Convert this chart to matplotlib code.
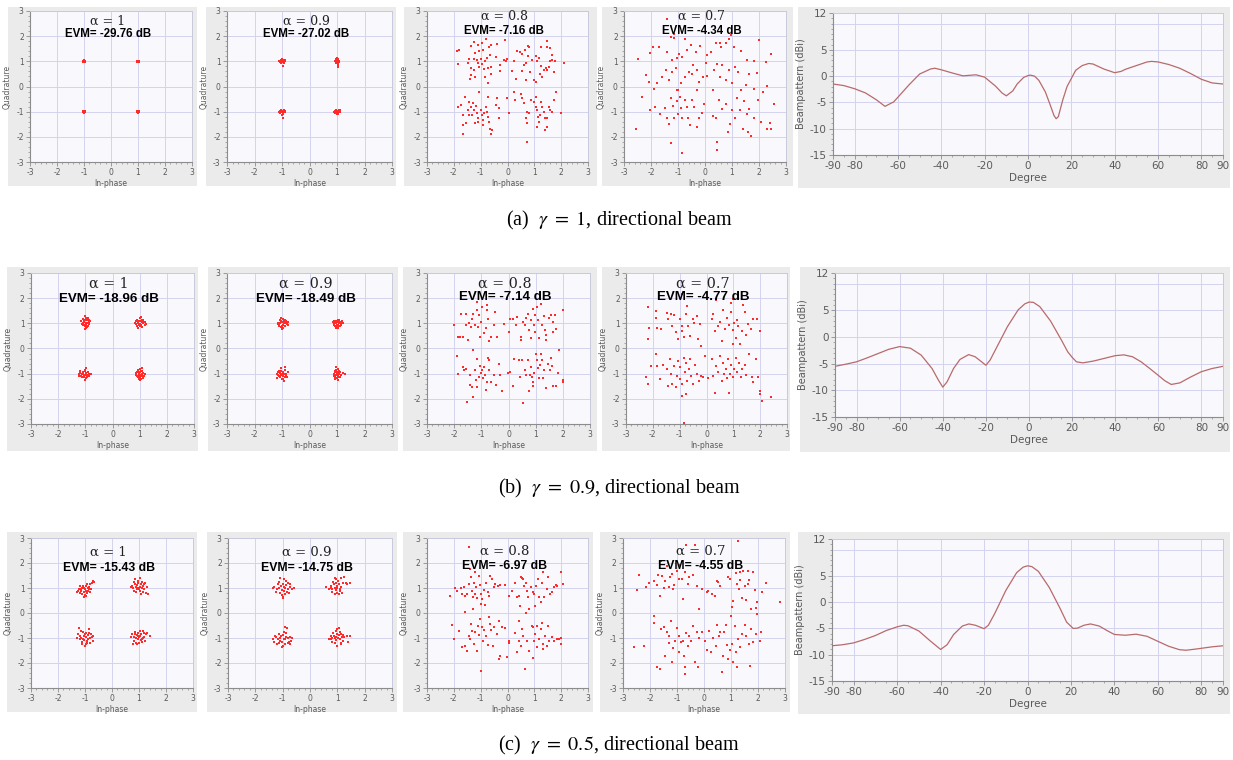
import numpy as np
import matplotlib.pyplot as plt
from matplotlib.patches import Rectangle
from matplotlib.ticker import MultipleLocator

plt.rcParams['mathtext.fontset'] = 'stix'
plt.rcParams['axes.unicode_minus'] = False

# ---------------- data ----------------
alphas = ['1', '0.9', '0.8', '0.7']
evm = [['-29.76', '-27.02', '-7.16', '-4.34'],
       ['-18.96', '-18.49', '-7.14', '-4.77'],
       ['-15.43', '-14.75', '-6.97', '-4.55']]
captions = [r'(a)  $\gamma\ =\ 1$, directional beam',
            r'(b)  $\gamma\ =\ 0.9$, directional beam',
            r'(c)  $\gamma\ =\ 0.5$, directional beam']

# constellation points (In-phase, Quadrature)
a1_pts = [(-1.02, 1.03), (-0.98, 0.99), (-1.00, 1.01), (-0.97, 1.02), (-1.03, 0.98), (-0.99, 0.97), (-1.01, 1.05),
          (-0.96, 0.98), (-1.04, 1.01), (-1.00, 0.96), (0.98, 1.00), (1.02, 1.01), (1.00, 0.98), (1.04, 1.02),
          (0.96, 0.99), (1.01, 0.97), (0.99, 1.03), (1.05, 1.00), (0.97, 1.01), (1.03, 0.98), (-1.01, -0.99),
          (-0.97, -1.02), (-1.03, -0.97), (-0.99, -1.04), (-1.05, -1.00), (-1.00, -1.01), (-0.98, -0.96),
          (-1.02, -1.03), (-0.96, -0.99), (-1.00, -1.00), (1.00, -1.01), (1.03, -0.98), (0.98, -1.03),
          (1.01, -1.00), (0.97, -0.97), (1.04, -1.02), (0.99, -1.04), (1.02, -0.99), (0.96, -1.00), (1.00, -0.96)]

a2_pts = [(-1.00, 1.00), (-0.95, 1.03), (-1.05, 0.97), (-0.92, 0.98), (-1.08, 1.02), (-0.98, 1.06), (-1.02, 0.94),
          (-0.90, 1.01), (-1.12, 1.00), (-0.96, 0.96), (-1.04, 1.05), (-0.97, 0.80), (-1.01, 1.08), (-0.94, 0.92),
          (-1.06, 0.99), (-0.88, 1.04), (1.00, 1.00), (1.04, 1.05), (0.96, 0.97), (1.02, 1.10), (0.98, 0.92),
          (1.06, 0.98), (0.94, 1.03), (1.01, 1.15), (1.03, 0.85), (0.99, 1.07), (1.08, 1.02), (0.97, 0.95),
          (1.05, 0.93), (0.95, 1.08), (1.02, 0.78), (1.00, 1.03), (-1.00, -1.00), (-0.95, -0.97), (-1.05, -1.03),
          (-0.92, -1.02), (-1.08, -0.98), (-0.98, -1.06), (-1.02, -0.94), (-0.90, -1.00), (-1.10, -1.01),
          (-0.96, -1.08), (-1.04, -0.96), (-0.97, -1.25), (-1.01, -1.12), (-0.94, -0.95), (-1.06, -1.05),
          (-0.88, -0.98), (1.00, -1.00), (1.05, -0.97), (0.95, -1.03), (1.08, -1.02), (0.92, -0.98), (1.02, -1.06),
          (0.98, -0.94), (1.10, -1.00), (0.90, -1.01), (1.04, -1.08), (0.96, -0.96), (1.12, -0.95), (1.01, -1.10),
          (0.94, -1.05), (1.06, -0.93), (0.99, -1.02)]

a3_pts = [(-1.9, 1.4), (-1.8, 1.45), (-1.85, 0.9), (-1.45, 1.1), (-1.35, 1.6), (-1.25, 1.75), (-1.1, 1.65),
          (-0.95, 1.72), (-0.8, 1.9), (-0.7, 1.55), (-0.6, 1.65), (-0.4, 1.7), (-0.1, 1.85), (-1.2, 1.35),
          (-1.05, 1.4), (-0.9, 1.45), (-1.25, 1.08), (-1.15, 1.05), (-1.0, 1.08), (-0.75, 1.15), (-0.65, 1.25),
          (-1.35, 0.72), (-1.25, 0.65), (-1.05, 0.78), (-0.88, 0.68), (-0.72, 0.72), (-0.6, 0.78), (-1.35, 0.45),
          (-1.38, 0.28), (-1.2, 0.36), (-0.82, 0.36), (-0.72, 0.15), (-0.6, 0.5), (-0.27, 0.62), (-0.28, 0.85),
          (-0.12, 1.05), (-0.06, 1.0), (-0.02, 1.08), (-0.43, 1.18), (-1.48, 0.92), (-1.1, 0.92), (-0.95, 0.9),
          (-0.85, 1.0), (0.37, 1.42), (0.47, 1.38), (0.65, 1.45), (0.75, 1.62), (0.8, 1.55), (1.23, 1.58),
          (1.48, 1.82), (1.48, 1.58), (1.6, 1.52), (0.18, 0.62), (0.25, 1.0), (0.3, 0.3), (0.55, 0.62),
          (0.6, 0.85), (0.68, 0.92), (0.78, 1.2), (0.55, 1.3), (0.83, 0.58), (0.68, 0.25), (0.93, 1.05),
          (1.05, 1.2), (1.11, 1.0), (1.17, 1.12), (1.23, 0.82), (1.2, 0.5), (1.35, 0.65), (1.42, 0.72),
          (1.48, 0.65), (1.55, 0.78), (1.58, 1.0), (1.67, 1.05), (1.73, 0.58), (1.64, 1.25), (1.76, 1.0),
          (2.12, 0.95), (1.29, 0.38), (0.99, 0.25), (1.05, 0.18), (-1.85, -0.83), (-1.65, -1.13), (-1.6, -0.41),
          (-1.66, -1.53), (-1.66, -1.9), (-1.54, -1.46), (-1.49, -0.93), (-1.42, -0.6), (-1.36, -0.8),
          (-1.33, -1.13), (-1.26, -0.93), (-1.17, -0.78), (-1.14, -1.07), (-1.11, -1.26), (-1.09, -1.4),
          (-1.05, -0.21), (-0.99, -0.93), (-0.96, -1.13), (-0.93, -1.33), (-0.9, -1.53), (-0.87, -1.07),
          (-0.8, -0.8), (-0.77, -1.0), (-0.72, -1.2), (-0.68, -1.4), (-0.64, -1.67), (-0.62, -1.87),
          (-0.56, -1.73), (-0.43, -0.74), (-0.4, -0.47), (-0.33, -0.87), (-0.31, -1.27), (-1.3, -0.67),
          (-1.42, -1.13), (-1.73, -0.74), (-1.21, -1.44), (-0.72, -0.41), (-0.02, -0.47), (0.06, -1.07),
          (0.25, -0.21), (0.28, -0.54), (0.49, -0.28), (0.55, -0.47), (0.62, -0.67), (0.68, -1.27), (0.72, -1.47),
          (0.74, -1.0), (0.8, -1.07), (0.74, -2.2), (0.86, -0.54), (0.99, -0.6), (1.05, -0.41), (1.05, -0.8),
          (1.11, -0.93), (1.09, -1.6), (1.17, -1.4), (1.2, -1.13), (1.29, -0.8), (1.35, -1.0), (1.38, -1.26),
          (1.41, -1.73), (1.48, -1.26), (1.55, -0.8), (1.58, -0.93), (1.67, -1.0), (1.73, -0.54), (1.79, -0.21),
          (2.0, -1.07), (1.48, -1.6), (1.23, -0.6), (1.14, -1.2)]

a4_pts = [(-2.49, 1.08), (-2.05, 1.35), (-1.92, 1.58), (-1.71, 1.58), (-1.42, 2.68), (-1.4, 1.38), (-1.27, 1.98),
          (-1.15, 1.91), (-1.13, 2.08), (-1.24, 1.05), (-1.03, 1.12), (-0.97, 1.31), (-0.84, 1.16), (-0.75, 1.87),
          (-0.66, 1.45), (-0.53, 1.65), (-0.35, 1.38), (-0.19, 1.61), (0.02, 0.94), (0.06, 1.25), (0.21, 1.38),
          (0.4, 1.71), (0.56, 1.74), (0.58, 1.58), (0.77, 1.74), (0.89, 1.87), (0.95, 2.05), (1.08, 1.58),
          (1.32, 1.42), (1.57, 1.05), (1.82, 1.02), (2.0, 1.85), (2.25, 0.98), (2.44, 1.31), (-2.2, 0.45),
          (-2.08, 0.19), (-1.89, -0.08), (-1.77, 0.12), (-1.58, 0.39), (-1.46, 0.65), (-1.34, 0.25), (-1.21, 0.58),
          (-1.09, 0.72), (-1.0, -0.12), (-0.9, 0.12), (-0.75, 0.39), (-0.59, 0.58), (-0.47, 0.49), (-0.43, 0.85),
          (-0.28, 0.65), (-0.22, 0.19), (-0.06, 0.36), (0.09, 0.41), (0.33, 0.65), (0.43, 0.89), (0.56, 0.39),
          (0.64, 0.85), (0.77, 0.25), (0.89, 0.65), (1.01, 0.15), (1.11, 0.78), (1.23, 0.58), (1.32, -0.15),
          (1.51, 0.05), (1.63, 0.49), (1.82, -0.08), (1.92, 0.52), (2.31, 0.01), (2.13, -0.21), (0.31, -0.12),
          (-0.28, -0.12), (-1.05, -0.15), (-2.57, -1.67), (-2.33, -0.41), (-2.04, -0.94), (-1.87, -0.81),
          (-1.65, -1.08), (-1.5, -0.84), (-1.42, -1.27), (-1.34, -1.5), (-1.25, -0.44), (-1.18, -0.78),
          (-1.13, -1.27), (-1.05, -0.57), (-0.99, -1.1), (-0.93, -0.41), (-0.88, -0.84), (-0.84, -1.27),
          (-0.75, -0.52), (-0.68, -0.81), (-0.63, -1.24), (-0.56, -1.54), (-0.47, -0.52), (-0.41, -0.81),
          (-0.31, -1.61), (-0.22, -1.24), (-0.1, -1.05), (-0.04, -0.7), (-1.25, -2.24), (-0.87, -2.63),
          (0.31, -1.18), (0.4, -1.27), (0.43, -2.2), (0.43, -2.51), (0.52, -0.54), (0.64, -0.88), (0.77, -0.68),
          (0.85, -1.81), (0.93, -1.5), (1.01, -0.94), (1.1, -1.27), (1.2, -0.44), (1.3, -0.94), (1.39, -1.67),
          (1.45, -0.57), (1.55, -1.08), (1.6, -1.81), (1.63, -0.88), (1.72, -1.98), (1.82, -1.27), (1.97, -0.54),
          (2.07, -1.41), (2.29, -1.67), (2.41, -1.45), (2.44, -1.67), (2.54, -0.68)]

b1_pts = [(-1.05, 1.05), (-0.95, 1.12), (-1.10, 0.92), (-0.88, 0.98), (-1.00, 1.30), (-0.98, 0.80), (-1.15, 1.08),
          (-0.92, 1.20), (-1.03, 0.88), (-0.85, 1.05), (-1.08, 1.18), (-0.97, 1.00), (-1.12, 0.98), (-0.90, 0.90),
          (-1.01, 1.15), (-0.94, 1.03), (-1.06, 0.95), (-0.82, 1.10), (-1.02, 0.76), (-0.99, 1.22), (-1.09, 1.02),
          (-0.96, 0.93), (-0.87, 1.15), (-1.04, 1.08), (-0.93, 0.85), (0.85, 1.10), (0.95, 1.00), (1.05, 0.95),
          (1.15, 1.05), (0.90, 0.88), (1.00, 1.20), (1.10, 0.85), (1.22, 0.98), (0.98, 1.08), (1.08, 1.12),
          (0.88, 0.98), (1.02, 0.90), (1.12, 1.02), (0.95, 0.82), (1.05, 1.25), (1.18, 0.92), (0.92, 1.15),
          (1.00, 0.97), (1.07, 1.04), (0.83, 1.02), (1.13, 1.15), (0.97, 0.92), (1.03, 1.10), (1.20, 1.06),
          (0.93, 1.05), (-1.10, -1.00), (-1.00, -0.90), (-0.95, -1.05), (-1.20, -0.98), (-1.05, -1.15),
          (-0.90, -0.95), (-1.15, -1.08), (-0.98, -0.78), (-1.02, -1.25), (-1.25, -1.02), (-0.85, -1.02),
          (-1.08, -0.92), (-0.93, -1.12), (-1.12, -1.15), (-1.00, -1.05), (-1.18, -0.90), (-0.96, -0.98),
          (-1.06, -1.06), (-0.88, -1.08), (-1.03, -0.85), (-1.14, -1.03), (-0.99, -1.18), (-1.22, -1.10),
          (-1.07, -0.97), (-0.80, -1.00), (0.95, -0.95), (1.05, -1.05), (0.90, -1.10), (1.10, -0.90), (1.00, -0.80),
          (0.98, -1.20), (1.15, -1.10), (0.88, -0.98), (1.08, -1.00), (1.02, -1.15), (0.93, -0.85), (1.12, -1.18),
          (0.97, -1.05), (1.06, -0.88), (1.20, -1.02), (0.85, -1.05), (1.03, -0.95), (0.95, -1.12), (1.10, -1.08),
          (1.00, -1.25), (0.92, -0.92), (1.14, -0.97), (1.04, -1.22), (0.99, -0.98), (1.08, -0.78)]

b2_pts = [(-1.00, 1.05), (-0.90, 1.12), (-1.10, 0.95), (-0.82, 0.98), (-0.95, 1.18), (-1.05, 0.85), (-1.15, 1.02),
          (-0.88, 0.88), (-0.98, 0.95), (-0.78, 1.05), (-1.08, 1.12), (-0.93, 1.00), (-1.12, 0.88), (-0.85, 1.10),
          (-1.02, 1.20), (-0.96, 0.82), (-1.06, 1.00), (-0.91, 1.06), (-0.99, 0.90), (-0.80, 0.92), (-1.04, 1.08),
          (-0.87, 1.02), (-1.13, 0.97), (-0.94, 1.14), (-1.01, 0.78), (0.95, 1.00), (1.05, 0.95), (0.90, 1.10),
          (1.10, 1.05), (1.00, 0.85), (0.88, 0.92), (1.15, 0.95), (1.02, 1.15), (0.97, 0.80), (1.08, 0.88),
          (0.92, 1.02), (1.20, 1.00), (1.03, 1.05), (0.86, 1.05), (1.12, 0.90), (0.99, 0.95), (1.06, 1.12),
          (0.94, 0.88), (1.17, 1.08), (1.01, 0.92), (0.90, 0.97), (1.09, 1.00), (0.96, 1.08), (1.04, 0.82),
          (1.13, 1.02), (-1.00, -1.00), (-0.90, -0.85), (-1.10, -1.10), (-0.95, -1.20), (-1.15, -0.95),
          (-0.85, -1.05), (-1.05, -0.78), (-0.92, -1.30), (-1.20, -1.02), (-0.98, -0.92), (-1.08, -1.15),
          (-0.88, -1.12), (-1.02, -1.05), (-0.80, -0.95), (-1.12, -0.88), (-0.96, -1.08), (-1.06, -0.98),
          (-0.90, -0.72), (-1.18, -1.18), (-1.00, -1.22), (-0.87, -1.00), (-1.04, -0.90), (-0.94, -1.02),
          (-1.14, -1.06), (-0.83, -1.15), (1.00, -1.00), (0.95, -0.85), (1.05, -1.10), (0.92, -1.15), (1.10, -0.95),
          (0.98, -0.75), (1.02, -1.25), (0.90, -1.00), (1.08, -0.88), (1.30, -1.02), (0.96, -1.05), (1.04, -0.92),
          (0.93, -0.90), (1.12, -1.12), (1.00, -1.18), (0.88, -1.08), (1.06, -1.02), (0.97, -0.95), (1.15, -1.05),
          (1.02, -0.82), (0.94, -1.22), (1.09, -1.15), (1.01, -0.97), (0.91, -0.92), (1.20, -0.98)]

b3_pts = [(-2.0, 0.92), (-1.86, 0.44), (-1.8, 0.46), (-1.76, 1.39), (-1.58, 1.39), (-1.55, 0.95), (-1.49, 0.33),
          (-1.47, 1.02), (-1.37, 0.86), (-1.33, 1.19), (-1.29, 1.39), (-1.22, 0.92), (-1.16, 1.52), (-1.09, 1.32),
          (-1.04, 0.46), (-1.0, 1.06), (-0.97, 1.65), (-0.92, 0.62), (-0.84, 0.83), (-0.8, 1.52), (-0.76, 1.19),
          (-0.72, 0.3), (-0.64, 0.46), (-0.55, 0.92), (-0.48, 1.45), (-0.43, 0.46), (-1.16, 1.85), (-0.8, 1.72),
          (-1.31, -0.07), (-1.68, 0.46), (-1.13, 0.86), (-0.15, 0.99), (0.0, 0.66), (0.04, 1.19), (0.16, 1.19),
          (0.28, 0.92), (0.31, 1.25), (0.47, 0.46), (0.47, 0.33), (0.55, 1.06), (0.62, 0.92), (0.65, 1.23),
          (0.71, 1.39), (0.77, 0.73), (0.81, 0.4), (0.83, 1.15), (0.89, 1.58), (0.93, 0.92), (0.97, 0.66),
          (0.99, 1.32), (1.04, 1.65), (1.08, 1.12), (1.11, 0.4), (1.2, 1.78), (1.24, 0.92), (1.3, 1.28),
          (1.35, 0.73), (1.38, 0.53), (1.48, 1.23), (1.57, 1.32), (1.63, 0.66), (1.65, 1.06), (1.73, 1.32),
          (1.75, 0.79), (2.02, 1.54), (1.85, -0.04), (1.38, 0.33), (-1.9, -0.3), (-1.86, -1.03), (-1.68, -0.73),
          (-1.64, -0.86), (-1.58, -0.82), (-1.52, -2.11), (-1.43, -1.06), (-1.4, -1.45), (-1.33, -1.52),
          (-1.29, -1.91), (-1.25, -0.86), (-1.21, -1.25), (-1.16, -0.4), (-1.15, -1.54), (-1.1, -1.12),
          (-1.06, -0.7), (-1.03, -0.99), (-0.98, -0.86), (-0.94, -1.19), (-0.91, -0.75), (-0.86, -1.06),
          (-0.8, -1.32), (-0.76, -0.36), (-0.72, -0.46), (-0.7, -0.86), (-0.64, -1.32), (-0.55, -1.06),
          (-0.45, -1.45), (-0.35, -0.62), (-0.31, -1.06), (-0.24, -1.68), (-0.84, -1.65), (-0.02, -0.99),
          (0.07, -0.92), (0.16, -1.49), (0.22, -0.4), (0.37, -0.46), (0.43, -1.15), (0.5, -0.46), (0.53, -2.18),
          (0.62, -0.86), (0.65, -1.06), (0.71, -0.46), (0.75, -1.68), (0.8, -1.06), (0.83, -0.75), (0.87, -1.12),
          (0.89, -1.49), (0.92, -1.32), (0.95, -0.99), (1.02, -0.2), (1.04, -0.44), (1.08, -0.79), (1.11, -1.19),
          (1.16, -0.66), (1.2, -0.22), (1.24, -0.46), (1.26, -1.19), (1.32, -0.86), (1.38, -1.58), (1.44, -0.62),
          (1.53, -0.86), (1.6, -0.7), (1.63, -1.49), (1.75, -1.49), (1.81, -0.99), (2.0, -1.32), (2.02, -1.25),
          (1.57, -0.36)]

b4_pts = [(-2.18, 1.66), (-2.18, 0.37), (-2.14, 0.83), (-1.87, 1.49), (-1.87, 1.23), (-1.84, 0.83), (-1.68, 0.77),
          (-1.49, 1.4), (-1.43, 1.16), (-1.34, 1.36), (-1.27, 0.9), (-1.22, 1.32), (-1.15, 0.66), (-1.06, 0.37),
          (-0.97, 1.19), (-0.93, 0.9), (-0.9, 0.7), (-0.85, 0.47), (-0.77, 1.36), (-0.72, 1.69), (-0.68, 0.9),
          (-0.6, 0.5), (-0.52, 1.19), (-0.47, 1.0), (-0.37, 1.29), (-0.31, 0.37), (-0.25, 0.96), (-0.19, 0.08),
          (0.19, 1.19), (0.25, 1.36), (0.31, 0.7), (0.37, 1.93), (0.44, 0.9), (0.52, 1.06), (0.56, 0.3),
          (0.62, 1.53), (0.68, 0.77), (0.77, 1.23), (0.85, 0.92), (0.9, 1.82), (0.93, 1.45), (0.97, 0.74),
          (1.03, 1.03), (1.1, 0.4), (1.15, 1.13), (1.18, 0.9), (1.25, 0.17), (1.31, 0.7), (1.37, 1.72),
          (1.43, 1.45), (1.49, 0.53), (1.56, 0.96), (1.64, 0.77), (1.74, 1.16), (1.87, 1.19), (2.0, 0.7),
          (1.0, 0.17), (-0.93, 2.15), (1.0, 1.95), (-2.24, -1.15), (-2.18, -1.41), (-2.05, -0.71), (-1.87, -0.22),
          (-1.84, -0.69), (-1.72, -1.21), (-1.62, -0.66), (-1.49, -0.82), (-1.43, -1.48), (-1.37, -0.42),
          (-1.31, -1.02), (-1.27, -1.41), (-1.22, -0.71), (-1.15, -1.54), (-1.1, -1.08), (-1.06, -0.49),
          (-1.0, -0.75), (-0.97, -1.21), (-0.91, -1.41), (-0.9, -1.87), (-0.85, -0.36), (-0.81, -0.95),
          (-0.75, -0.58), (-0.72, -1.28), (-0.65, -0.82), (-0.6, -0.4), (-0.56, -1.08), (-0.5, -1.41),
          (-0.44, -0.66), (-0.37, -1.02), (-0.27, -1.28), (-0.19, -1.11), (-0.12, -1.15), (-0.06, -0.29),
          (0.06, -1.19), (0.19, -0.42), (0.25, -1.08), (0.31, -1.77), (0.37, -0.69), (0.44, -0.92), (0.52, -0.29),
          (0.56, -1.28), (0.62, -0.58), (0.65, -1.02), (0.72, -0.82), (0.77, -1.19), (0.81, -0.42), (0.85, -1.77),
          (0.87, -1.02), (0.93, -0.66), (0.97, -1.15), (1.03, -0.82), (1.1, -0.36), (1.15, -0.95), (1.22, -0.58),
          (1.27, -1.15), (1.34, -0.82), (1.43, -0.66), (1.49, -1.06), (1.59, -0.22), (1.68, -1.15), (1.74, -1.32),
          (1.84, -0.4), (1.93, -1.15), (2.0, -1.68), (2.0, -1.81), (2.05, -2.07), (2.39, -1.94), (-0.83, -2.97),
          (-0.77, -1.81)]

c1_pts = [(-1.00, 0.95), (-1.25, 0.90), (-1.20, 1.10), (-0.90, 1.00), (-0.80, 1.15), (-0.70, 1.30), (-1.10, 0.75),
          (-1.05, 0.65), (-0.95, 0.70), (-1.30, 0.85), (-1.15, 0.95), (-0.85, 1.05), (-0.75, 1.20), (-0.95, 1.10),
          (-1.05, 0.85), (-1.18, 0.80), (-0.88, 0.90), (-1.02, 1.02), (-0.92, 0.82), (-1.12, 1.00), (-0.78, 0.98),
          (-1.22, 0.98), (-0.98, 0.88), (-0.82, 0.85), (-1.08, 1.08), (-0.65, 1.25), (-1.00, 0.72), (-0.93, 1.18),
          (-1.14, 0.88), (-0.86, 0.95), (0.75, 1.10), (0.80, 0.90), (0.85, 1.35), (0.90, 1.05), (0.95, 1.20),
          (1.00, 0.95), (1.05, 1.40), (1.10, 1.00), (1.15, 0.85), (1.20, 1.15), (1.25, 0.80), (1.30, 1.05),
          (0.82, 1.25), (0.88, 0.85), (0.92, 1.12), (0.98, 1.30), (1.02, 0.88), (1.08, 1.15), (1.12, 1.25),
          (1.18, 0.95), (0.78, 1.00), (0.86, 1.18), (0.94, 0.95), (1.04, 1.05), (1.14, 1.08), (1.22, 1.20),
          (0.70, 1.05), (0.96, 1.02), (1.06, 0.78), (1.35, 0.75), (-1.25, -0.85), (-1.20, -1.05), (-1.15, -0.70),
          (-1.10, -1.15), (-1.05, -0.90), (-1.00, -1.30), (-0.95, -0.80), (-0.90, -1.05), (-0.85, -0.65),
          (-0.80, -1.20), (-0.75, -0.95), (-0.70, -1.10), (-1.28, -1.00), (-1.18, -0.92), (-1.08, -0.75),
          (-1.02, -1.08), (-0.98, -0.95), (-0.92, -1.18), (-0.88, -0.88), (-0.82, -1.00), (-1.12, -1.22),
          (-1.00, -0.85), (-0.94, -1.12), (-0.86, -0.78), (-1.06, -1.02), (-1.22, -0.60), (-0.78, -0.85),
          (-0.96, -1.25), (-1.14, -0.98), (-0.72, -0.92), (0.70, -0.95), (0.75, -0.85), (0.80, -1.10), (0.85, -0.75),
          (0.90, -1.00), (0.95, -0.80), (1.00, -1.20), (1.05, -0.90), (1.10, -1.05), (1.15, -0.70), (1.20, -0.95),
          (1.25, -0.85), (1.40, -0.90), (0.82, -0.95), (0.88, -1.18), (0.92, -0.88), (0.98, -1.02), (1.02, -0.72),
          (1.08, -0.85), (1.12, -1.15), (1.18, -0.80), (0.78, -1.22), (0.96, -0.92), (1.06, -1.08), (1.14, -0.98),
          (0.86, -0.82), (1.00, -0.95), (1.22, -1.10), (0.93, -1.25), (1.30, -0.78)]

c2_pts = [(-1.30, 1.05), (-1.20, 0.95), (-1.15, 1.25), (-1.10, 0.80), (-1.05, 1.10), (-1.00, 0.65), (-0.95, 1.35),
          (-0.90, 1.00), (-0.85, 0.85), (-0.80, 1.20), (-0.75, 1.05), (-0.65, 0.95), (-0.60, 1.00), (-1.25, 0.85),
          (-1.08, 1.40), (-1.02, 0.92), (-0.98, 1.18), (-0.92, 0.75), (-0.88, 1.12), (-0.82, 0.98), (-0.78, 0.80),
          (-1.12, 1.02), (-0.96, 0.88), (-0.86, 1.28), (-1.18, 1.15), (-1.04, 0.72), (-0.94, 1.05), (-0.72, 1.15),
          (-1.35, 1.00), (-0.97, 0.60), (0.60, 1.05), (0.70, 0.95), (0.75, 1.10), (0.80, 0.85), (0.85, 1.25),
          (0.90, 1.00), (0.95, 1.35), (1.00, 0.80), (1.05, 1.15), (1.10, 0.95), (1.15, 1.40), (1.20, 1.20),
          (1.30, 1.20), (1.45, 1.20), (0.88, 1.15), (0.92, 0.78), (0.98, 1.02), (1.02, 1.30), (1.08, 0.88),
          (1.12, 1.05), (0.82, 0.98), (0.95, 0.92), (1.00, 1.10), (1.25, 1.45), (1.35, 1.18), (0.78, 1.02),
          (0.96, 1.22), (1.06, 0.75), (1.18, 0.82), (0.90, 1.40), (-1.35, -1.05), (-1.30, -1.15), (-1.25, -0.95),
          (-1.20, -1.25), (-1.15, -0.85), (-1.10, -1.10), (-1.05, -0.90), (-1.00, -1.30), (-0.95, -0.75),
          (-0.90, -1.05), (-0.85, -0.60), (-0.80, -1.20), (-0.75, -0.95), (-0.70, -1.10), (-0.65, -1.00),
          (-1.18, -1.02), (-1.08, -0.98), (-1.02, -1.15), (-0.98, -0.88), (-0.92, -1.22), (-0.88, -0.95),
          (-0.82, -1.00), (-0.78, -1.15), (-1.12, -1.20), (-0.96, -1.05), (-0.86, -0.78), (-1.28, -0.90),
          (-0.72, -1.25), (-1.04, -1.35), (-0.90, -0.55), (0.70, -1.05), (0.75, -0.90), (0.80, -1.15), (0.85, -0.80),
          (0.90, -1.00), (0.95, -0.70), (1.00, -1.30), (1.05, -0.60), (1.10, -1.05), (1.15, -0.85), (1.20, -1.10),
          (1.25, -0.95), (1.35, -0.90), (1.40, -1.15), (0.88, -0.92), (0.92, -1.20), (0.98, -0.82), (1.02, -1.00),
          (1.08, -0.75), (1.12, -1.18), (1.18, -0.95), (0.82, -0.98), (0.96, -1.08), (1.06, -0.88), (1.22, -0.88),
          (1.45, -0.92), (0.78, -1.02), (1.00, -0.65), (1.14, -1.25), (0.94, -0.96)]

c3_pts = [(-2.15, 0.67), (-1.94, 0.99), (-1.88, 0.87), (-1.75, 0.99), (-1.69, 0.76), (-1.63, 1.03), (-1.6, 0.69),
          (-1.51, 0.76), (-1.44, 1.16), (-1.42, 2.65), (-1.38, 1.76), (-1.36, 1.43), (-1.32, 0.89), (-1.28, 0.63),
          (-1.23, 1.2), (-1.2, 0.76), (-1.16, 1.03), (-1.14, 0.59), (-1.07, 1.49), (-1.04, 1.12), (-0.99, 0.76),
          (-0.95, 0.56), (-0.89, 0.93), (-0.83, 0.32), (-0.79, 1.2), (-0.74, 0.83), (-0.7, 0.67), (-0.64, 1.49),
          (-0.58, 1.36), (-0.52, 1.03), (-0.46, 1.16), (-0.37, 1.09), (-0.27, 1.12), (-0.11, 1.12), (-1.57, 0.05),
          (-1.28, 0.16), (-0.99, 0.36), (-1.2, 1.63), (0.07, 0.69), (0.16, 0.89), (0.28, 1.2), (0.35, 0.63),
          (0.44, 0.69), (0.49, 1.43), (0.53, 1.39), (0.59, 1.36), (0.62, 1.09), (0.69, 1.2), (0.74, 0.89),
          (0.78, 0.65), (0.81, 0.16), (0.86, 1.03), (0.94, 0.83), (0.99, 0.76), (1.02, 0.29), (1.06, 1.09),
          (1.12, 1.36), (1.19, 0.65), (1.23, 0.43), (1.27, 1.2), (1.31, 1.63), (1.36, 0.65), (1.46, 0.96),
          (1.52, 1.43), (1.58, 0.76), (1.64, 0.83), (1.73, 1.03), (1.8, 1.12), (2.01, 1.63), (2.07, 1.16),
          (1.83, 1.09), (0.47, 0.29), (-2.06, -0.47), (-2.0, -1.04), (-1.81, -0.71), (-1.69, -1.37), (-1.57, -1.31),
          (-1.51, -1.51), (-1.44, -0.93), (-1.41, -1.04), (-1.36, -0.44), (-1.32, -0.71), (-1.26, -1.24),
          (-1.2, -0.75), (-1.14, -1.51), (-1.11, -0.51), (-1.07, -0.88), (-1.04, -0.24), (-0.99, -2.31),
          (-0.95, -0.57), (-0.91, -1.11), (-0.86, -0.67), (-0.79, -0.91), (-0.74, -1.28), (-0.7, -0.17),
          (-0.67, -0.44), (-0.62, -0.67), (-0.54, -1.31), (-0.49, -0.57), (-0.4, -0.84), (-0.33, -1.84),
          (-0.27, -1.71), (-0.3, -0.31), (-0.21, -0.57), (-0.09, -0.61), (-0.02, -1.77), (0.04, -1.11),
          (0.07, -1.2), (0.28, -0.8), (0.35, -1.55), (0.41, -0.31), (0.44, -1.11), (0.49, -1.31), (0.53, -0.64),
          (0.59, -0.91), (0.65, -2.24), (0.69, 0.0), (0.74, -1.11), (0.81, -1.51), (0.9, -0.51), (0.94, -1.81),
          (0.96, -0.57), (0.99, -1.11), (1.02, -0.84), (1.09, -0.51), (1.11, -1.37), (1.19, -1.04), (1.23, -0.64),
          (1.27, -0.4), (1.31, -1.24), (1.33, -1.44), (1.4, -0.91), (1.46, -1.31), (1.52, -0.51), (1.56, -1.11),
          (1.64, -0.97), (1.73, -1.11), (1.83, -1.04), (1.93, -1.04), (1.98, -1.24), (2.01, -1.01)]

c4_pts = [(-2.5, 0.93), (-2.42, 1.52), (-2.13, 1.03), (-2.05, 1.2), (-1.87, 1.29), (-1.74, 1.12), (-1.72, 1.52),
          (-1.64, 0.69), (-1.58, 2.09), (-1.56, 1.49), (-1.5, 0.99), (-1.44, 1.29), (-1.37, 1.89), (-1.31, 1.03),
          (-1.25, 1.43), (-1.19, 1.56), (-1.15, 0.96), (-1.1, 1.12), (-1.01, 1.69), (-0.94, 1.36), (-0.88, 1.92),
          (-0.82, 1.36), (-0.76, 0.56), (-0.7, 1.63), (-0.61, 1.16), (-0.54, 1.43), (-0.42, 1.52), (-0.33, 2.72),
          (-0.27, 1.07), (-0.17, 0.16), (-0.09, 0.96), (0.1, 0.85), (0.16, 0.89), (0.28, 0.76), (0.4, 0.67),
          (0.47, 1.29), (0.53, 1.23), (0.61, 1.09), (0.9, 1.43), (0.96, 1.36), (1.02, 0.23), (1.08, 0.49),
          (1.18, 1.6), (1.23, 1.16), (1.3, 0.96), (1.33, 1.63), (1.35, 1.33), (1.39, 0.59), (1.45, 1.69),
          (1.51, 1.07), (1.57, 0.53), (1.63, 1.16), (1.67, 1.33), (1.75, 0.16), (1.88, 0.93), (1.94, 0.19),
          (1.96, 0.45), (2.16, 0.85), (2.31, 1.2), (2.8, 0.45), (1.63, 1.69), (1.26, 2.89), (-0.67, 2.72),
          (1.82, 1.65), (-2.58, -1.37), (-2.23, -1.31), (-1.87, -0.13), (-1.84, -0.4), (-1.74, -2.17),
          (-1.64, -2.24), (-1.6, -0.64), (-1.5, -0.57), (-1.44, -1.71), (-1.37, -0.77), (-1.31, -1.2),
          (-1.28, -0.91), (-1.23, -0.31), (-1.19, -1.97), (-1.13, -1.41), (-1.07, -1.11), (-1.01, -0.61),
          (-0.94, -0.91), (-0.91, -1.55), (-0.86, -1.17), (-0.79, -1.11), (-0.74, -1.71), (-0.72, -2.17),
          (-0.72, -2.44), (-0.66, -0.8), (-0.61, -1.31), (-0.54, -0.91), (-0.49, -1.11), (-0.42, -0.51),
          (-0.33, -1.97), (-0.27, -0.77), (-0.17, -1.01), (-0.09, -0.75), (0.04, -1.11), (0.1, -1.47),
          (0.2, -0.71), (0.25, -1.57), (0.34, -1.01), (0.44, -1.31), (0.49, -0.48), (0.56, -0.91), (0.61, -0.75),
          (0.65, -2.37), (0.69, -1.71), (0.74, -0.75), (0.81, -0.48), (0.86, -1.28), (0.9, -1.84), (0.96, -1.47),
          (0.99, -0.11), (1.02, -1.24), (1.06, -1.97), (1.14, -0.51), (1.18, -1.57), (1.23, -2.17), (1.26, -1.04),
          (1.33, -1.37), (1.39, -0.84), (1.51, -0.48), (1.57, -0.93), (1.67, -1.24), (1.72, -2.11), (1.75, -0.64),
          (1.82, -1.17), (1.91, -0.84), (2.12, -0.75), (2.06, -1.11), (1.96, -0.04), (-0.21, -2.17)]

scatter_data = [[a1_pts, a2_pts, a3_pts, a4_pts],
                [b1_pts, b2_pts, b3_pts, b4_pts],
                [c1_pts, c2_pts, c3_pts, c4_pts]]

# beampattern (degree, dBi)
beam_a_deg = [-90, -85, -80, -75, -70, -66, -62, -60, -55, -50, -45, -43, -40, -35, -30, -27, -24, -20, -15, -12,
              -10, -7, -5, -2, 0, 1, 3, 5, 8, 10, 12, 13, 14, 16, 18, 20, 22, 25, 28, 30, 35, 40, 43, 45, 50, 55,
              57, 60, 65, 70, 75, 80, 85, 90]
beam_a_db = [-1.5, -1.8, -2.4, -3.2, -4.5, -5.75, -4.9, -4.0, -1.7, 0.4, 1.35, 1.5, 1.2, 0.6, 0.05, 0.15, 0.25,
             -0.2, -1.9, -3.2, -3.75, -2.8, -1.5, -0.25, 0.1, 0.2, 0.0, -0.8, -3.0, -5.2, -7.5, -8.1, -7.7, -4.6,
             -2.0, -0.45, 1.1, 2.0, 2.4, 2.3, 1.35, 0.65, 0.9, 1.3, 2.0, 2.7, 2.8, 2.7, 2.2, 1.5, 0.5, -0.6, -1.3,
             -1.5]

beam_b_deg = [-90, -85, -80, -75, -70, -65, -60, -55, -50, -45, -42, -40, -38, -35, -32, -28, -25, -22, -20, -18,
              -15, -10, -5, -2, 0, 2, 5, 10, 15, 18, 20, 22, 25, 30, 35, 40, 44, 48, 52, 56, 60, 63, 66, 70, 75,
              80, 85, 90]
beam_b_db = [-5.5, -5.1, -4.65, -3.9, -3.1, -2.3, -1.8, -2.1, -3.4, -5.9, -8.1, -9.4, -8.4, -5.9, -4.2, -3.3, -3.7,
             -4.65, -5.3, -4.3, -1.95, 1.95, 5.1, 6.2, 6.55, 6.5, 5.7, 3.0, -0.55, -2.8, -3.8, -4.65, -4.85, -4.5,
             -4.0, -3.5, -3.35, -3.7, -4.65, -5.9, -7.2, -8.2, -8.9, -8.6, -7.5, -6.5, -5.9, -5.5]

beam_c_deg = [-90, -85, -80, -75, -70, -65, -60, -57, -55, -50, -45, -40, -37, -34, -30, -27, -24, -20, -18, -15,
              -10, -5, -2, 0, 2, 5, 10, 15, 18, 21, 23, 26, 29, 33, 37, 40, 45, 50, 55, 60, 65, 70, 73, 78, 85, 90]
beam_c_db = [-8.3, -8.1, -7.75, -7.1, -6.35, -5.4, -4.7, -4.4, -4.5, -5.5, -7.3, -9.0, -8.1, -6.15, -4.55, -4.15,
             -4.4, -5.05, -4.4, -2.1, 2.2, 5.6, 6.65, 6.9, 6.75, 5.85, 2.8, -1.2, -3.8, -5.0, -4.95, -4.4, -4.15,
             -4.55, -5.5, -6.15, -6.3, -6.1, -6.5, -7.45, -8.4, -9.05, -9.15, -8.9, -8.5, -8.3]

beam_deg = [beam_a_deg, beam_b_deg, beam_c_deg]
beam_db = [beam_a_db, beam_b_db, beam_c_db]

# ---------------- layout (pixel boxes: x0, y0, x1, y1) ----------------
W, H = 1233, 760
fig = plt.figure(figsize=(W / 100, H / 100), dpi=100)
fig.patch.set_facecolor('white')

panel_boxes = [
    [(8, 7, 197, 186), (206, 7, 396, 186), (404, 7, 597, 186), (602, 7, 793, 186), (798, 7, 1230, 188)],
    [(7, 267, 198, 451), (208, 267, 398, 451), (403, 267, 597, 451), (602, 267, 790, 451), (800, 267, 1230, 452)],
    [(7, 532, 197, 712), (207, 532, 397, 712), (403, 532, 593, 712), (600, 532, 790, 712), (798, 532, 1230, 714)],
]
scatter_boxes = [
    [(30, 11, 192, 162), (227, 11, 392, 162), (427, 11, 588, 162), (624, 11, 786, 162)],
    [(31, 273, 194, 424), (227, 273, 392, 424), (427, 273, 590, 424), (626, 273, 787, 424)],
    [(31, 538, 193, 688), (228, 538, 392, 688), (427, 538, 588, 688), (623, 538, 785, 688)],
]
beam_boxes = [(833, 13, 1223, 155), (835, 273, 1223, 417), (832, 539, 1223, 681)]
caption_y = [220, 488, 745]
evm_size = [8.3, 9.6, 8.8]
title_y = [[(0.93, 0.85), (0.93, 0.85), (0.965, 0.865), (0.965, 0.865)],
           [(0.93, 0.83), (0.93, 0.83), (0.93, 0.84), (0.93, 0.84)],
           [(0.905, 0.80), (0.905, 0.80), (0.915, 0.815), (0.915, 0.815)]]


def px_axes(box):
    x0, y0, x1, y1 = box
    return fig.add_axes([x0 / W, 1 - y1 / H, (x1 - x0) / W, (y1 - y0) / H])


def px_panel(box):
    x0, y0, x1, y1 = box
    fig.add_artist(Rectangle((x0 / W, 1 - y1 / H), (x1 - x0) / W, (y1 - y0) / H,
                             transform=fig.transFigure, facecolor='#ebebeb',
                             edgecolor='none', zorder=-5))


def style(ax, fs):
    ax.set_facecolor('#f8f8fd')
    for s in ['top', 'right']:
        ax.spines[s].set_color('#c9c9dd')
        ax.spines[s].set_linewidth(0.7)
    for s in ['left', 'bottom']:
        ax.spines[s].set_color('#8c8c8c')
        ax.spines[s].set_linewidth(0.8)
    ax.tick_params(which='both', direction='out', colors='#8c8c8c', labelcolor='#5a5a5a', labelsize=fs, pad=1.5)
    ax.tick_params(which='major', length=3, width=0.6)
    ax.tick_params(which='minor', length=1.5, width=0.5)
    ax.tick_params(top=False, right=False, which='both')
    ax.grid(True, which='major', color='#d3d3ee', linewidth=0.7)
    ax.set_axisbelow(True)


for r in range(3):
    for box in panel_boxes[r]:
        px_panel(box)

    for c in range(4):
        ax = px_axes(scatter_boxes[r][c])
        style(ax, 5.5)
        pts = np.array(scatter_data[r][c])
        ax.scatter(pts[:, 0], pts[:, 1], s=2.4, marker='s', color='#ff2a2a', linewidths=0, zorder=3)
        ax.set_xlim(-3, 3)
        ax.set_ylim(-3, 3)
        ax.set_xticks(range(-3, 4))
        ax.set_yticks(range(-3, 4))
        ax.xaxis.set_minor_locator(MultipleLocator(0.2))
        ax.yaxis.set_minor_locator(MultipleLocator(0.2))
        ax.set_xlabel('In-phase', fontsize=5.5, color='#5a5a5a', labelpad=1)
        ax.set_ylabel('Quadrature', fontsize=5.5, color='#5a5a5a', labelpad=3)
        ya, ye = title_y[r][c]
        ax.text(0.48, ya, '\u03b1 = ' + alphas[c], transform=ax.transAxes, ha='center', va='center',
                fontsize=evm_size[r] + 0.7, family='DejaVu Serif', color='#222222', zorder=5)
        ax.text(0.48, ye, 'EVM= ' + evm[r][c] + ' dB', transform=ax.transAxes, ha='center', va='center',
                fontsize=evm_size[r], family='Liberation Sans', weight='bold', color='black', zorder=5)

    ax = px_axes(beam_boxes[r])
    style(ax, 7.5)
    ax.grid(False)
    for g in [-10, -5, 0, 5, 10]:
        ax.axhline(g, color='#d3d3ee', linewidth=0.7, zorder=0)
    for g in range(-80, 81, 20):
        ax.axvline(g, color='#d3d3ee', linewidth=0.7, zorder=0)
    ax.plot(beam_deg[r], beam_db[r], color='#b96a6a', linewidth=0.9, zorder=3)
    ax.set_xlim(-90, 90)
    ax.set_ylim(-15, 12)
    ax.set_xticks([-90, -80, -60, -40, -20, 0, 20, 40, 60, 80, 90])
    ax.set_yticks([-15, -10, -5, 0, 5, 12])
    ax.xaxis.set_minor_locator(MultipleLocator(5))
    ax.yaxis.set_minor_locator(MultipleLocator(1))
    ax.set_xlabel('Degree', fontsize=7.5, color='#5a5a5a', labelpad=1)
    ax.set_ylabel('Beampattern (dBi)', fontsize=7, color='#5a5a5a', labelpad=3)

    fig.text(619 / W, 1 - caption_y[r] / H, captions[r], ha='center', va='center',
             fontsize=14.5, family='Liberation Serif')

fig.savefig('out.png', dpi=100, facecolor='white')
